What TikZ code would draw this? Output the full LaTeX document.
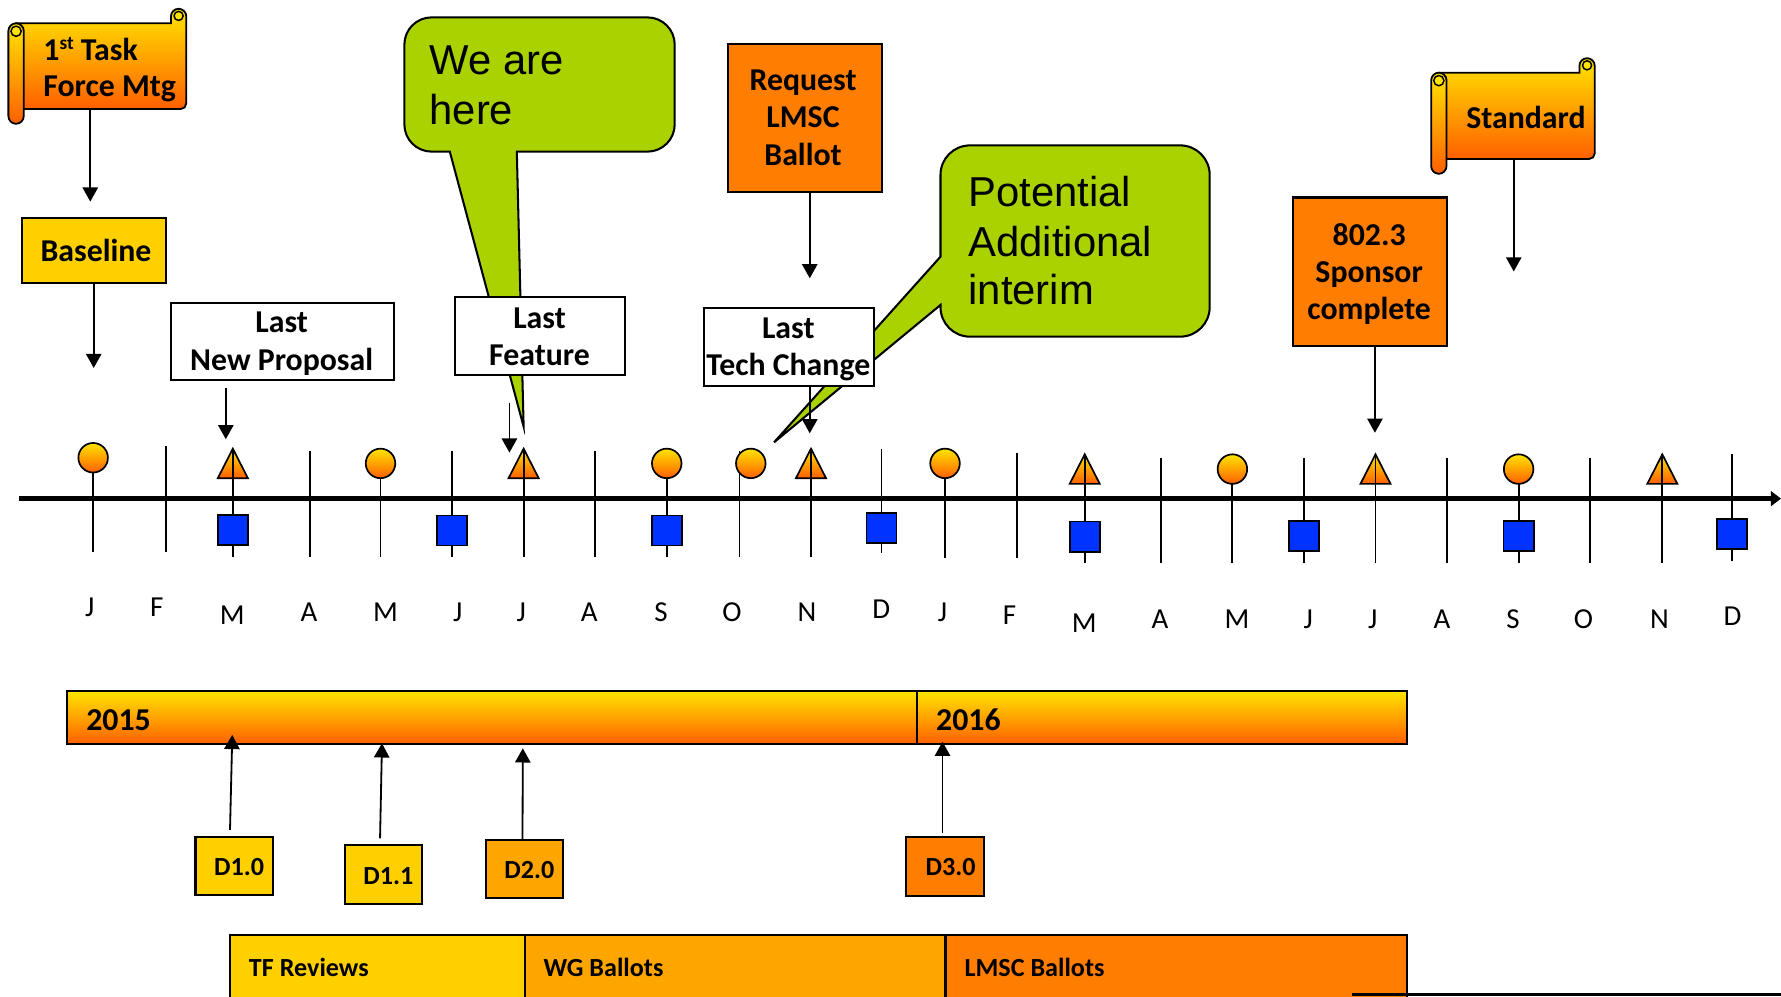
\documentclass[tikz,border=0pt]{standalone}
\usepackage{fontspec}
\setmainfont{Carlito}
\newfontfamily\arialf{Liberation Sans}
\usetikzlibrary{arrows.meta}
\definecolor{gY}{RGB}{255,228,0}
\definecolor{gO}{RGB}{255,95,0}
\definecolor{cgold}{RGB}{255,208,0}
\definecolor{camber}{RGB}{255,165,0}
\definecolor{corng}{RGB}{255,125,0}
\definecolor{cblue}{RGB}{0,51,255}
\definecolor{cgreen}{RGB}{170,210,0}
\tikzset{
 bx/.style={draw, line width=1.8pt, inner sep=0pt, anchor=north west},
 tl/.style={anchor=base, inner sep=0pt, font=\bfseries\fontsize{28}{33}\selectfont},
 tlw/.style={anchor=base west, inner sep=0pt, font=\bfseries\fontsize{28}{33}\selectfont},
 dl/.style={anchor=base, inner sep=0pt, font=\bfseries\fontsize{23}{28}\selectfont},
 pl/.style={anchor=base west, inner sep=0pt, font=\bfseries\fontsize{23}{28}\selectfont},
 btxt/.style={anchor=base west, inner sep=0pt, font=\arialf\fontsize{36.8}{44}\selectfont},
 mon/.style={anchor=base, inner sep=0pt, font=\fontsize{25.5}{30}\selectfont},
 arr/.style={line width=1.6pt, -{Triangle[width=13.5pt,length=12.5pt]}},
 tickln/.style={line width=1.6pt},
 grad/.style={top color=gY, bottom color=gO},
 mk/.style={draw, line width=1.5pt, grad},
 sq/.style={draw, line width=1.5pt, fill=cblue, minimum size=26.5pt, inner sep=0pt},
 circ/.style={circle, mk, minimum size=26pt, inner sep=0pt},
 bubble/.style={draw, line width=1.8pt, fill=cgreen},
}
\newcommand\drawscroll[4]{%
 \draw[mk, line width=1.6pt] ({#1+7},{-#2}) -- ({#3-13.5},{-#2}) -- ({#3-13.5},{-#2+6}) arc (180:0:6.75) -- ({#3},{-#4+5}) arc (0:-90:5) -- ({#1+7},{-#4}) -- cycle;
 \draw[line width=1.3pt, fill=gY] ({#3-6.75},{-#2+6.5}) circle (4);
 \draw[mk, line width=1.6pt, rounded corners=6.75] (#1,{-#2}) rectangle ({#1+13.5},{-#4-13});
 \draw[line width=1.3pt, fill=gY] ({#1+6.75},{-#2-7}) circle (4.5);
}
\begin{document}
\begin{tikzpicture}[x=1pt,y=1pt]
\useasboundingbox (0,0) rectangle (1568,-877);
% speech bubbles
\draw[bubble] (461,-375.6) -- (396,-133.5) -- (380,-133.5) arc (270:180:24) -- (356,-39.3) arc (180:90:24) -- (570,-15.3) arc (90:0:24) -- (594,-109.5) arc (0:-90:24) -- (455,-133.5) -- cycle;
\node[btxt] (we1) at (378,-66) {We are};
\node[btxt] (we2) at (378,-110) {here};
\draw[bubble] (681.5,-389.4) -- (828,-268.5) -- (828,-270.4) arc (180:270:26) -- (1039,-296.4) arc (270:360:26) -- (1065,-154) arc (0:90:26) -- (854,-128) arc (90:180:26) -- (828,-226) -- cycle;
\node[btxt] (po1) at (852.5,-182) {Potential};
\node[btxt] (po2) at (852.5,-226) {Additional};
\node[btxt] (po3) at (852.5,-268.5) {interim};
% axis
\coordinate (ax0) at (17,-439);
\coordinate (ax1) at (1568,-439);
\draw[line width=4.5pt, -{Triangle[width=13pt,length=9pt]}] (ax0) -- (ax1);
% triangles
\foreach \x/\a/\b in {205/395/421, 461/395/421, 714/395/421, 955/400/426, 1211/400/426, 1463.5/400/426}
  \draw[mk] ({\x-13.25},-\b) -- (\x,-\a) -- ({\x+13.25},-\b) -- cycle;
% ticks
\foreach \x/\a/\b in {82/410/486, 146/393/486, 205/395/490, 273/397/490, 335/410/490, 398/397/490, 461/395/490, 524/397/490, 587/410/490, 651/397/490, 714/395/490, 776/395/487,
  832/410/491, 895/398.5/491, 955/400/496, 1022/403/496, 1085/415/496, 1148/403/496, 1211/400/496, 1274/403/496, 1337/415/496, 1400/403/496, 1463.5/400/496, 1525/400/494}
  \draw[tickln] (\x,-\a) -- (\x,-\b);
% circles
\foreach \x/\y [count=\i] in {82/403, 335/408, 587/408, 661/408, 832/408, 1085/413, 1337/413}
  \node[circ] (c\i) at (\x,-\y) {};
% squares
\foreach \x/\y [count=\i] in {205/466.5, 398/467, 587/467, 776/465, 955/472.5, 1148/472, 1337/472, 1525/470}
  \node[sq] (s\i) at (\x,-\y) {};
% months
\foreach \x/\y/\t [count=\i] in {79/543/J, 138/543/F, 204.5/550/M, 272/547/A, 339.3/547/M, 403/547/J, 458.8/547/J, 518.8/547/A, 582/547/S, 644.5/547/O, 710.5/547/N, 775.9/544.5/D,
  829.8/547/J, 888.7/550/F, 954.5/556.7/M, 1021.3/553.6/A, 1089/553.6/M, 1151.7/553.6/J, 1208.5/553.6/J, 1269.5/553.6/A, 1332.1/553.6/S, 1394.1/553.6/O, 1461/553.6/N, 1525.3/551/D}
  \node[mon] (m\i) at (\x,-\y) {\t};
% scrolls
\drawscroll{7.4}{20.5}{164}{96}
\node[tlw] (tf1) at (38,-53) {1\raisebox{9.5pt}{\fontsize{17}{17}\selectfont st} Task};
\node[tlw] (tf2) at (38,-85) {Force Mtg};
\coordinate (s1b) at (79.5,-96);
\drawscroll{1260}{64}{1404}{140}
\node[tlw] (std) at (1290.7,-113) {Standard};
\coordinate (s2b) at (1332.7,-140);
% boxes
\node[bx, fill=cgold, minimum width=127pt, minimum height=57pt] (bl) at (18.5,-191) {};
\node[tl] (blt) at (84.5,-230.4) {Baseline};
\node[bx, fill=white, minimum width=196pt, minimum height=68pt] (lnp) at (150,-265.6) {};
\node[tl] (lnp1) at (248,-293) {Last};
\node[tl] (lnp2) at (248,-326) {New Proposal};
\node[bx, fill=white, minimum width=149pt, minimum height=68pt] (lf) at (400,-261) {};
\node[tl] (lf1) at (475,-289) {Last};
\node[tl] (lf2) at (475,-322) {Feature};
\node[bx, fill=corng, minimum width=136pt, minimum height=130.6pt] (req) at (639.8,-37.6) {};
\node[tl] (req1) at (707,-79.5) {Request};
\node[tl] (req2) at (707,-112.5) {LMSC};
\node[tl] (req3) at (707,-145.5) {Ballot};
\node[bx, fill=white, minimum width=150pt, minimum height=69pt] (ltc) at (618.6,-270) {};
\node[tl] (ltc1) at (694,-297.8) {Last};
\node[tl] (ltc2) at (694,-330.5) {Tech Change};
\node[bx, fill=corng, minimum width=136pt, minimum height=130.7pt] (sp) at (1137.4,-173) {};
\node[tl] (sp1) at (1205.4,-215.7) {802.3};
\node[tl] (sp2) at (1205.4,-248.9) {Sponsor};
\node[tl] (sp3) at (1205.4,-281.7) {complete};
% down arrows
\coordinate (a1t) at (79.5,-177.5);
\coordinate (a2t) at (82.5,-324);
\coordinate (a3s) at (198.8,-341.6);
\coordinate (a3t) at (198.8,-386.7);
\coordinate (a4s) at (448.5,-354.5);
\coordinate (a4t) at (448.5,-398.5);
\coordinate (a5t) at (712.9,-245);
\coordinate (a6t) at (712.9,-381.5);
\coordinate (a7t) at (1332.7,-239);
\coordinate (a8t) at (1210.5,-381);
\draw[arr] (s1b) -- (a1t);
\draw[arr] (bl.south -| a2t) -- (a2t);
\draw[arr] (a3s) -- (a3t);
\draw[arr] (a4s) -- (a4t);
\draw[arr] (req.south -| a5t) -- (a5t);
\draw[arr] (ltc.south -| a6t) -- (a6t);
\draw[arr] (s2b) -- (a7t);
\draw[arr] (sp.south -| a8t) -- (a8t);
% year bar
\node[bx, grad, minimum width=748.3pt, minimum height=46.9pt] (y15) at (58.3,-607.5) {};
\node[bx, grad, minimum width=430.9pt, minimum height=46.9pt] (y16) at (806.6,-607.5) {};
\node[tlw] (y15t) at (75.8,-642.7) {2015};
\node[tlw] (y16t) at (824,-642.7) {2016};
% draft boxes
\node[bx, fill=cgold, minimum width=68pt, minimum height=51.4pt] (d10) at (171.2,-736) {};
\node[dl] (d10t) at (210.6,-771) {D1.0};
\node[bx, fill=cgold, minimum width=68pt, minimum height=51.4pt] (d11) at (302.6,-743.3) {};
\node[dl] (d11t) at (342,-779) {D1.1};
\node[bx, fill=camber, minimum width=67.7pt, minimum height=51.3pt] (d20) at (426.9,-738.7) {};
\node[dl] (d20t) at (466,-773.6) {D2.0};
\node[bx, fill=corng, minimum width=68.8pt, minimum height=51.6pt] (d30) at (797,-736) {};
\node[dl] (d30t) at (837,-771) {D3.0};
% up arrows
\coordinate (b1s) at (202.5,-730.7);
\coordinate (b1t) at (204.5,-647);
\coordinate (b2s) at (334.6,-738);
\coordinate (b2t) at (336.3,-654.4);
\coordinate (b3s) at (460,-739.5);
\coordinate (b3t) at (460.3,-658.8);
\coordinate (b4s) at (829.8,-733.6);
\coordinate (b4t) at (829.8,-653);
\draw[arr] (b1s) -- (b1t);
\draw[arr] (b2s) -- (b2t);
\draw[arr] (b3s) -- (b3t);
\draw[arr] (b4s) -- (b4t);
% phase bars
\node[bx, fill=cgold, minimum width=259.3pt, minimum height=62pt] (tf) at (202,-822.3) {};
\node[bx, fill=camber, minimum width=370.2pt, minimum height=62pt] (wg) at (461.3,-822.3) {};
\node[bx, fill=corng, minimum width=406pt, minimum height=62pt] (lm) at (831.5,-822.3) {};
\node[pl] (tft) at (219,-859.3) {TF Reviews};
\node[pl] (wgt) at (478.4,-859.3) {WG Ballots};
\node[pl] (lmt) at (849,-859.3) {LMSC Ballots};
\coordinate (bl0) at (1190,-875.5);
\coordinate (bl1) at (1572,-875.5);
\draw[line width=3pt] (bl0) -- (bl1);
\end{tikzpicture}
\end{document}
